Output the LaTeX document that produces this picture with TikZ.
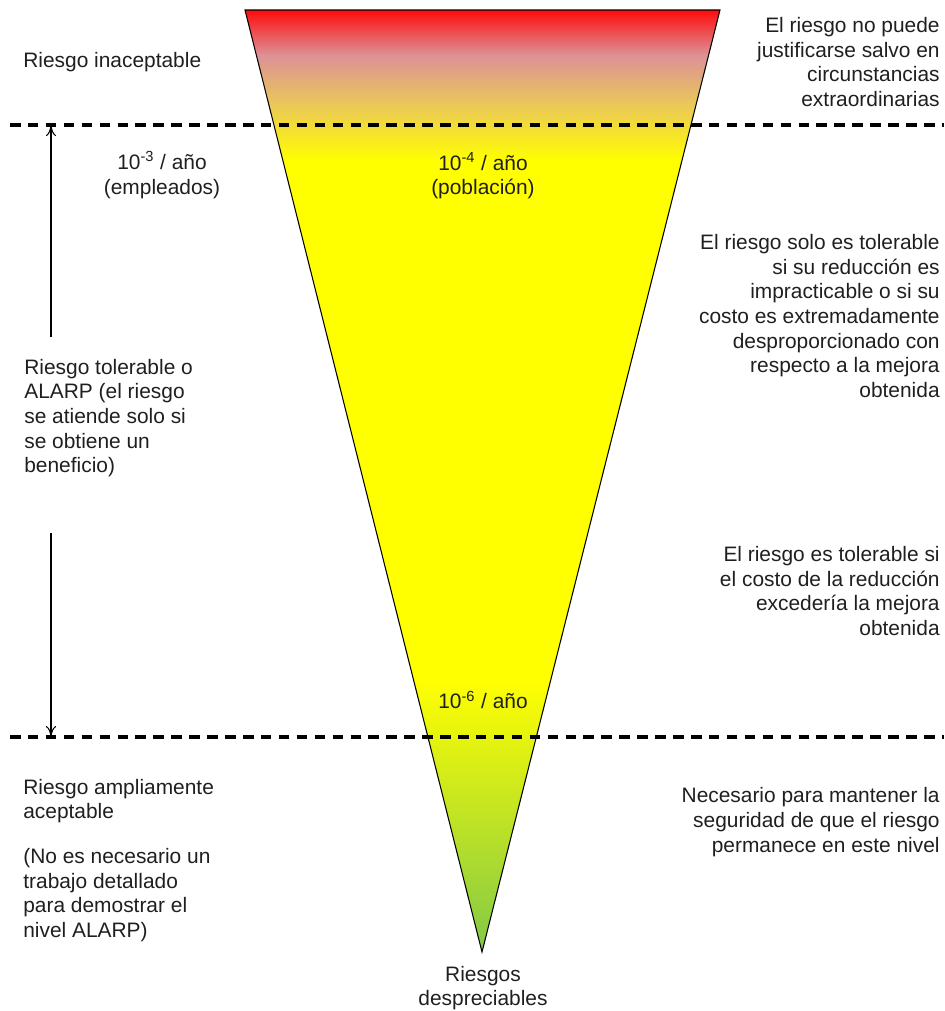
\documentclass[tikz,border=0pt]{standalone}
\usepackage{fontspec}
\setmainfont{Liberation Sans}
\usepackage{xcolor}
\usetikzlibrary{arrows.meta,positioning}
\definecolor{riskred}{RGB}{255,12,12}
\definecolor{riskpink}{RGB}{220,145,150}
\definecolor{riskorange}{RGB}{232,195,95}
\definecolor{riskyellow}{RGB}{255,255,0}
\definecolor{riskgreen}{RGB}{130,200,72}
\pgfdeclareverticalshading{riskshade}{100bp}{color(0bp)=(riskgreen); color(25bp)=(riskgreen); color(39.4bp)=(riskyellow); color(67bp)=(riskyellow); color(70.2bp)=(riskorange); color(72.6bp)=(riskpink); color(75bp)=(riskred); color(100bp)=(riskred)}
\tikzset{
  sidetext/.style={font=\fontsize{11.9}{14}\selectfont,inner sep=0pt,text=black!88},
  lefttext/.style={sidetext,align=left,anchor=west},
  righttext/.style={sidetext,align=right,anchor=east},
  midtext/.style={sidetext,align=center},
  levelline/.style={dash pattern=on 6pt off 4.2pt,line width=1.8pt},
  rangearrow/.style={-{To[length=2.2mm,width=2mm]},line width=.6pt}
}

\begin{document}
\begin{tikzpicture}[x=0.02cm,y=-0.02cm]
  \useasboundingbox (0,0) rectangle (944,1011);
  % corners of the risk triangle
  \coordinate (tl) at (245,10);
  \coordinate (tr) at (720,10);
  \coordinate (apex) at (482,952);
  \draw[shading=riskshade,line width=.6pt] (tl)--(tr)--(apex)--cycle;
  % limits of tolerability
  \coordinate (hiL) at (10,125);
  \coordinate (hiR) at (944,125);
  \coordinate (loL) at (10,737);
  \coordinate (loR) at (944,737);
  \draw[levelline] (hiL)--(hiR);
  \draw[levelline] (loL)--(loR);
  % left column
  \node[lefttext] (inacept) at (23,62) {Riesgo inaceptable};
  \node[lefttext] (alarp) at (24,418) {Riesgo tolerable o\\ALARP (el riesgo\\se atiende solo si\\se obtiene un\\beneficio)};
  \node[lefttext] (amplia) at (23,801) {Riesgo ampliamente\\aceptable};
  \node[lefttext] (nonec) at (23,895) {(No es necesario un\\trabajo detallado\\para demostrar el\\nivel ALARP)};
  % range arrows
  \coordinate (upS) at (51,337);
  \coordinate (upE) at (51,125);
  \coordinate (dnS) at (51,533);
  \coordinate (dnE) at (51,737);
  \draw[rangearrow] (upS)--(upE);
  \draw[rangearrow] (dnS)--(dnE);
  % frequencies
  \node[midtext] (empl) at (162,175) {10\textsuperscript{-3} / año\\(empleados)};
  \node[midtext] (pobl) at (483,176) {10\textsuperscript{-4} / año\\(población)};
  \node[midtext] (seis) at (483,700) {10\textsuperscript{-6} / año};
  \node[midtext] (despr) at (483,988) {Riesgos\\despreciables};
  % right column
  \node[righttext] (justif) at (940,62) {El riesgo no puede\\justificarse salvo en\\circunstancias\\extraordinarias};
  \node[righttext] (solo) at (940,316) {El riesgo solo es tolerable\\si su reducción es\\impracticable o si su\\costo es extremadamente\\desproporcionado con\\respecto a la mejora\\obtenida};
  \node[righttext] (excede) at (940,591) {El riesgo es tolerable si\\el costo de la reducción\\excedería la mejora\\obtenida};
  \node[righttext] (mantener) at (940,822) {Necesario para mantener la\\seguridad de que el riesgo\\permanece en este nivel};
\end{tikzpicture}
\end{document}
